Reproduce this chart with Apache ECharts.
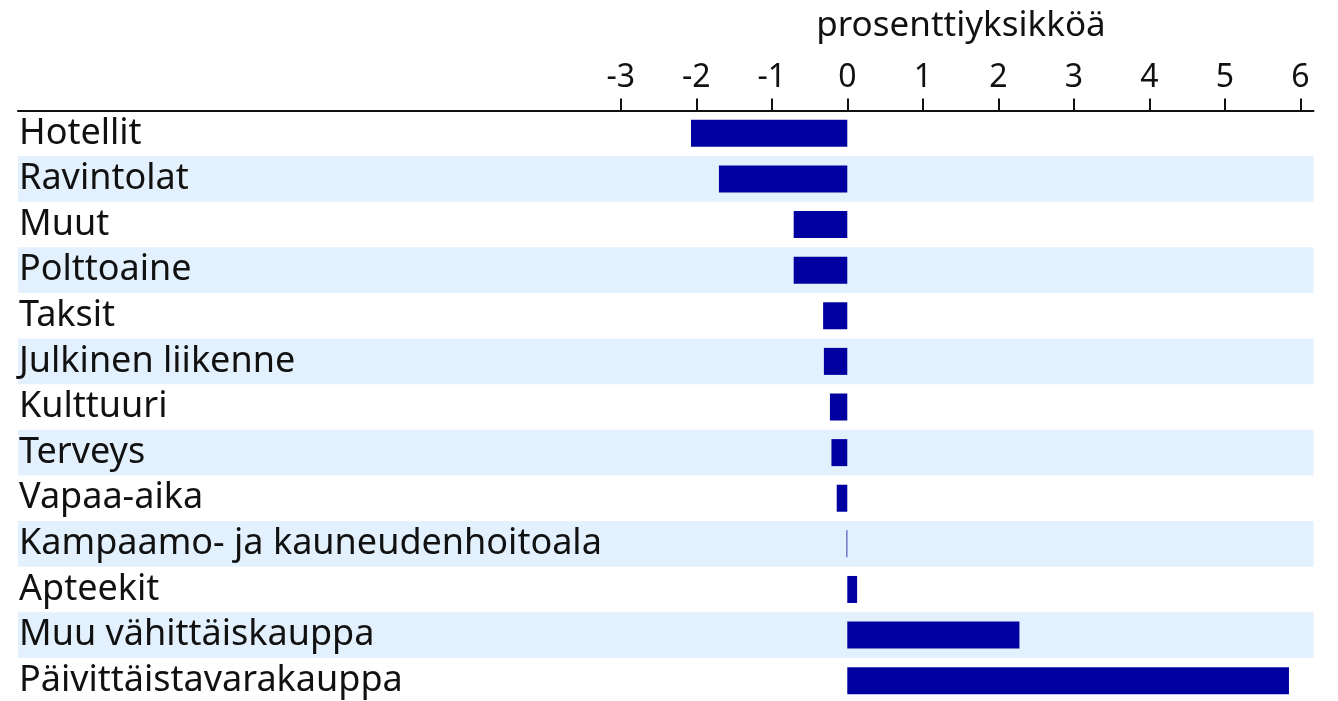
<!DOCTYPE html>
<html>
<head>
<meta charset="utf-8">
<script src="https://cdn.jsdelivr.net/npm/echarts@6/dist/echarts.min.js"></script>
<style>html,body{margin:0;padding:0;background:#fff;overflow:hidden}#c{width:1338px;height:704px}</style>
</head>
<body>
<div id="c"></div>
<script>
const categories = ["Hotellit","Ravintolat","Muut","Polttoaine","Taksit","Julkinen liikenne","Kulttuuri","Terveys","Vapaa-aika","Kampaamo- ja kauneudenhoitoala","Apteekit","Muu vähittäiskauppa","Päivittäistavarakauppa"];
const values = [-2.07,-1.70,-0.71,-0.71,-0.32,-0.31,-0.23,-0.21,-0.14,-0.01,0.13,2.28,5.85];
const tickValues = [-3,-2,-1,0,1,2,3,4,5,6];
const axisTitle = "prosenttiyksikköä";

const chart = echarts.init(document.getElementById('c'));
chart.setOption({
  animation: false,
  title: {text: axisTitle, left: 956, top: 4, textAlign: 'center',
    textStyle: {fontFamily: 'Noto Sans', fontSize: 35, fontWeight: 'normal', color: '#111'}},
  grid: {left: 18, width: 1295.5, top: 110.5, bottom: 0.5, containLabel: false},
  xAxis: {
    type: 'value', position: 'top', min: -10.984, max: 6.175,
    splitLine: {show: false},
    axisLine: {show: true, lineStyle: {color: '#111', width: 2}},
    axisTick: {show: true, customValues: tickValues, length: 12, lineStyle: {color: '#111', width: 2}},
    axisLabel: {show: true, customValues: tickValues, margin: 17, fontFamily: 'Noto Sans', fontSize: 32, color: '#111'}
  },
  yAxis: {
    type: 'category', data: categories, inverse: true,
    axisLine: {show: false}, axisTick: {show: false},
    splitArea: {show: true, interval: 0, areaStyle: {color: ['rgba(255,255,255,0)', '#e3f0fd']}},
    axisLabel: {inside: true, interval: 0, margin: 1, align: 'left', padding: [4, 0, 0, 0], fontFamily: 'Noto Sans', fontSize: 36, color: '#111'}
  },
  series: [{
    type: 'bar', data: values, barWidth: 27,
    itemStyle: {color: '#0000a0'}
  }]
});
</script>
</body>
</html>
